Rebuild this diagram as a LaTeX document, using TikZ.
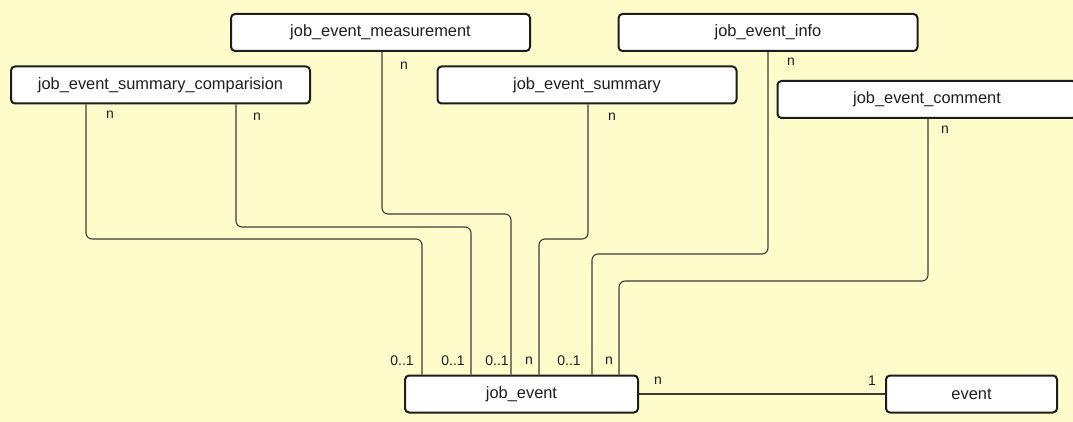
\documentclass[tikz,border=0pt]{standalone}
\usepackage{fontspec}
\setmainfont{Liberation Sans}
\begin{document}
\begin{tikzpicture}[x=1pt,y=-1pt,
  entity/.style={draw=boxline, fill=white, line width=2pt, rounded corners=4pt,
    minimum width=299pt, minimum height=37pt, inner sep=0pt, outer sep=1pt,
    font=\fontsize{16.4}{19}\selectfont, text=txt},
  conn/.style={draw=connline, line width=1.1pt, rounded corners=6pt},
  card/.style={font=\fontsize{14}{16}\selectfont, text=txt, inner sep=0pt}]
\definecolor{bg}{RGB}{255,252,204}
\definecolor{boxline}{RGB}{28,28,28}
\definecolor{connline}{RGB}{60,60,55}
\definecolor{txt}{RGB}{30,30,30}
\useasboundingbox (0,0) rectangle (1073,422);
\clip (0,0) rectangle (1073,422);
\fill[bg] (0,0) rectangle (1073,422);

% entities
\node[entity] (meas) at (380.5,32.5) {job\_event\_measurement};
\node[entity] (info) at (768,32.5) {job\_event\_info};
\node[entity] (cmp)  at (160.5,85) {job\_event\_summary\_comparision};
\node[entity] (sum)  at (587,85) {job\_event\_summary};
\node[entity] (com)  at (927,99.5) {job\_event\_comment};
\node[entity, minimum width=233pt] (je) at (521.5,394) {job\_event};
\node[entity, minimum width=171pt] (ev) at (971.5,394) {event};

% relationships into job_event
\draw[conn] (86,0 |- cmp.south) -- (86,239) -- (422,239) -- (422,0 |- je.north);
\draw[conn] (236,0 |- cmp.south) -- (236,227) -- (471,227) -- (471,0 |- je.north);
\draw[conn] (382,0 |- meas.south) -- (382,214) -- (511,214) -- (511,0 |- je.north);
\draw[conn] (588,0 |- sum.south) -- (588,239) -- (539,239) -- (539,0 |- je.north);
\draw[conn] (768,0 |- info.south) -- (768,254) -- (592,254) -- (592,0 |- je.north);
\draw[conn] (928,0 |- com.south) -- (928,281) -- (619,281) -- (619,0 |- je.north);
\draw[conn] (je.east) -- (ev.west);

% cardinalities, source side
\node[card] (c1a) at (110,115) {n};
\node[card] (c2a) at (257,117) {n};
\node[card] (c3a) at (404,66) {n};
\node[card] (c4a) at (612,117) {n};
\node[card] (c5a) at (791,62) {n};
\node[card] (c6a) at (945,130) {n};
% cardinalities, job_event side
\node[card] (c1b) at (402,361) {0..1};
\node[card] (c2b) at (453,361) {0..1};
\node[card] (c3b) at (497,361) {0..1};
\node[card] (c4b) at (529,361) {n};
\node[card] (c5b) at (569,361) {0..1};
\node[card] (c6b) at (609,361) {n};
\node[card] (c7a) at (658,381) {n};
\node[card] (c7b) at (872,381) {1};
\end{tikzpicture}
\end{document}
